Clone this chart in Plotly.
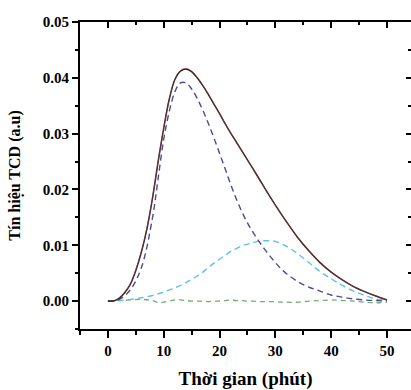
import plotly.graph_objects as go

# Time (minutes)
t_meas = [0, 1, 1.5, 2, 3, 4, 5, 6, 7, 8, 9, 10, 11, 12, 13, 14, 15, 16, 17, 18, 19, 20,
          21, 22, 23, 24, 26, 28, 30, 32, 34, 36, 38, 40, 42, 44, 46, 48, 50]
# Measured TCD signal (black)
y_meas = [0, 0, 0.0002, 0.0005, 0.0015, 0.003, 0.0055, 0.0088, 0.013, 0.0185, 0.025, 0.031,
          0.0362, 0.0397, 0.0412, 0.0416, 0.0411, 0.0400, 0.0386, 0.0370, 0.0353, 0.0336,
          0.0318, 0.0301, 0.0285, 0.0269, 0.0237, 0.0204, 0.0172, 0.0142, 0.0114, 0.0090,
          0.0069, 0.0052, 0.0038, 0.0026, 0.0017, 0.0009, 0.0002]
# Fitted sum (red)
y_fit = [0, 0, 0.0002, 0.0005, 0.0015, 0.003, 0.0056, 0.0089, 0.0131, 0.0186, 0.025, 0.0309,
         0.0362, 0.0397, 0.0413, 0.0417, 0.0412, 0.0401, 0.0386, 0.0371, 0.0353, 0.0336,
         0.0318, 0.0301, 0.0285, 0.0269, 0.0236, 0.0204, 0.0172, 0.0142, 0.0114, 0.0090,
         0.0069, 0.0052, 0.0038, 0.0026, 0.0017, 0.0009, 0.0002]

t_comp = [0, 2, 4, 6, 8, 9, 10, 11, 12, 13, 14, 15, 16, 17, 18, 19, 20, 21, 22, 23, 24, 25,
          26, 27, 28, 29, 30, 31, 32, 34, 36, 38, 40, 42, 44, 46, 48, 50]
# Peak 1 (dark blue dashed)
y_peak1 = [0, 0.0003, 0.002, 0.006, 0.015, 0.022, 0.029, 0.034, 0.0375, 0.0391, 0.0391, 0.0380,
           0.0363, 0.0342, 0.0318, 0.0292, 0.0265, 0.0237, 0.0209, 0.0183, 0.0160, 0.0140,
           0.0123, 0.0108, 0.0094, 0.0081, 0.0069, 0.0058, 0.0049, 0.0035, 0.0025, 0.0018,
           0.0011, 0.0007, 0.0004, 0.0002, 0.0001, 0]
# Peak 2 (cyan dashed)
y_peak2 = [0, 0.0001, 0.0003, 0.0006, 0.001, 0.0013, 0.0016, 0.002, 0.0024, 0.0028, 0.0033,
           0.0039, 0.0045, 0.0052, 0.0060, 0.0068, 0.0075, 0.0082, 0.0089, 0.0094, 0.0099,
           0.0102, 0.0105, 0.0107, 0.0108, 0.0108, 0.0107, 0.0103, 0.0098, 0.0085, 0.0069,
           0.0053, 0.0040, 0.0028, 0.0018, 0.0010, 0.0004, 0.0001]
# Peak 3 (green dashed, baseline)
y_peak3 = [0, 0.0001, 0.0002, 0.0003, 0.0001, -0.0003, -0.0002, 0.0, 0.0002, 0.0002, 0.0001,
           0.0, 0.0, 0.0, -0.0001, 0.0, 0.0, 0.0001, 0.0002, 0.0001, 0.0001, 0.0, 0.0,
           -0.0001, -0.0001, -0.0001, -0.0001, -0.0002, -0.0002, -0.0002, 0.0, 0.0001,
           0.0002, 0.0001, 0.0, -0.0002, -0.0003, -0.0002]

x_ticks = [0, 10, 20, 30, 40, 50]
x_tick_text = ["0", "10", "20", "30", "40", "50"]
y_ticks = [0.00, 0.01, 0.02, 0.03, 0.04, 0.05]
y_tick_text = ["0.00", "0.01", "0.02", "0.03", "0.04", "0.05"]

x_range = [-5, 54.3]
y_range = [-0.005, 0.05]

FONT = "Liberation Serif"

fig = go.Figure()
fig.add_trace(go.Scatter(x=t_comp, y=y_peak3, mode="lines", line_shape="spline",
                         line=dict(color="#6fae6f", width=1.3, dash="5px,4px"), showlegend=False))
fig.add_trace(go.Scatter(x=t_comp, y=y_peak2, mode="lines", line_shape="spline",
                         line=dict(color="#5cc3e6", width=1.4, dash="6px,4px"), showlegend=False))
fig.add_trace(go.Scatter(x=t_comp, y=y_peak1, mode="lines", line_shape="spline",
                         line=dict(color="#4b4b94", width=1.4, dash="6px,4px"), showlegend=False))
fig.add_trace(go.Scatter(x=t_meas, y=y_meas, mode="lines", line_shape="spline",
                         line=dict(color="#222222", width=1.5), showlegend=False))
fig.add_trace(go.Scatter(x=t_meas, y=y_fit, mode="lines", line_shape="spline",
                         line=dict(color="#c43a3a", width=0.8), opacity=0.6, showlegend=False))
# helper trace for the top/right frame axes
fig.add_trace(go.Scatter(x=[], y=[], xaxis="x2", yaxis="y2", showlegend=False, hoverinfo="skip"))

tickfont = dict(family=FONT, size=15, color="black", weight="bold")

fig.update_layout(
    width=411, height=390,
    margin=dict(l=80, r=0, t=22, b=61, autoexpand=False),
    paper_bgcolor="white", plot_bgcolor="white",
    xaxis=dict(range=x_range, tickvals=x_ticks, ticktext=x_tick_text,
               ticks="outside", ticklen=7, tickwidth=1.5,
               tickcolor="black", showline=True, linecolor="black", linewidth=1.8,
               showgrid=False, zeroline=False, tickfont=tickfont, automargin=False,
               minor=dict(dtick=5, tick0=0, ticks="outside", ticklen=4, tickwidth=1.5,
                          tickcolor="black", showgrid=False),
               title=dict(text="Thời gian (phút)",
                          font=dict(family=FONT, size=19, color="black", weight="bold"),
                          standoff=16)),
    yaxis=dict(range=y_range, tickvals=y_ticks, ticktext=y_tick_text,
               ticks="outside", ticklen=6, tickwidth=1.5,
               tickcolor="black", showline=True, linecolor="black", linewidth=1.8,
               showgrid=False, zeroline=False, tickfont=tickfont, automargin=False,
               minor=dict(dtick=0.005, tick0=0, ticks="outside", ticklen=3, tickwidth=1.5,
                          tickcolor="black", showgrid=False),
               title=dict(text="Tín hiệu TCD (a.u)",
                          font=dict(family=FONT, size=16, color="black", weight="bold"),
                          standoff=18)),
    xaxis2=dict(range=x_range, overlaying="x", side="top", anchor="y", tickvals=x_ticks,
                showticklabels=False, ticks="inside", ticklen=6, tickwidth=1.5, tickcolor="black",
                showline=True, linecolor="black", linewidth=1.8, showgrid=False, zeroline=False,
                minor=dict(dtick=5, tick0=0, ticks="inside", ticklen=3, tickwidth=1.5,
                           tickcolor="black", showgrid=False)),
    yaxis2=dict(range=y_range, overlaying="y", side="right", anchor="x", tickvals=y_ticks,
                showticklabels=False, ticks="inside", ticklen=5, tickwidth=1.5, tickcolor="black",
                showline=False, showgrid=False, zeroline=False,
                minor=dict(dtick=0.005, tick0=0, ticks="inside", ticklen=3, tickwidth=1.5,
                           tickcolor="black", showgrid=False)),
)

fig.write_html("out.html", config={"displayModeBar": False},
               post_script="document.body.style.margin='0';")
